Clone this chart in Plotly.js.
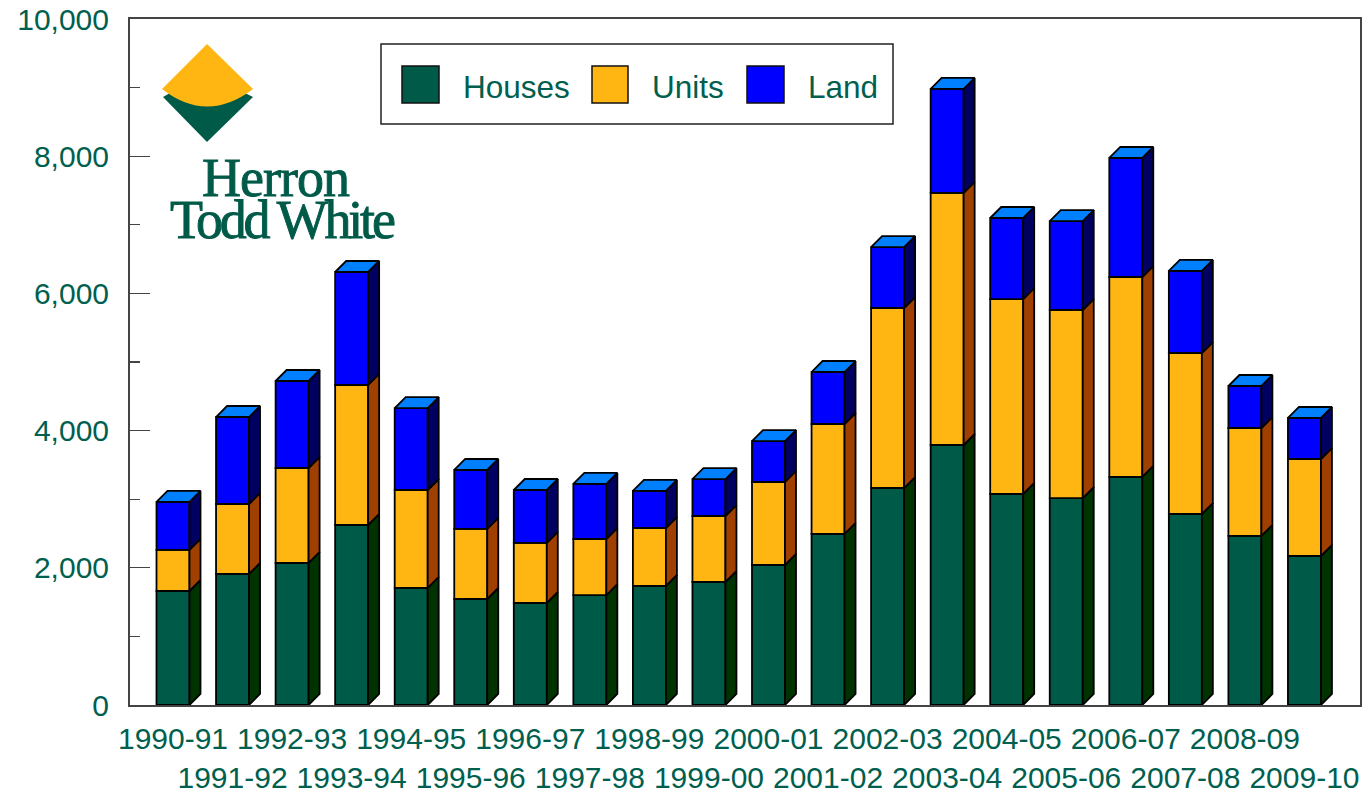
<!DOCTYPE html>
<html>
<head>
<meta charset="utf-8">
<script src="https://cdn.plot.ly/plotly-3.0.1.min.js"></script>
<style>html,body{margin:0;padding:0;background:#fff;overflow:hidden}#chart{width:1372px;height:793px}</style>
</head>
<body>
<div id="chart"></div>
<script>
const categories = ["1990-91","1991-92","1992-93","1993-94","1994-95","1995-96","1996-97","1997-98","1998-99","1999-00","2000-01","2001-02","2002-03","2003-04","2004-05","2005-06","2006-07","2007-08","2008-09","2009-10"];
const houses = [1662,1910,2070,2624,1706,1545,1487,1603,1735,1793,2041,2493,3163,3790,3076,3017,3324,2784,2464,2172];
const units  = [ 598,1020,1385,2041,1428,1021, 875, 817, 845, 962,1210,1603,2624,3674,2842,2741,2915,2347,1574,1414];
const land   = [ 700,1268,1268,1647,1195, 860, 772, 802, 540, 539, 597, 758, 889,1516,1181,1297,1735,1196, 612, 598];
const yTicks = [0,2000,4000,6000,8000,10000];

const GREEN="#005A48", YELLOW="#FFB612", BLUE="#0000FF";
const TEXT="#005F4E", AXIS="#444444";
const L=130,R=1360,T=19,B=705;
const STEP=59.55, X0=173, DEPTH=11, EDGE=1.8;
const xLo=(L-X0)/STEP, xHi=(R-X0)/STEP;
const BARW=33/STEP, DX=DEPTH/STEP, DY=DEPTH/((B-T)/10000);
const idx=categories.map((_,i)=>i);
const px=x=>(x-L)/(R-L), py=y=>1-(y-T)/(B-T);
const P=(x,y)=>px(x).toFixed(5)+","+py(y).toFixed(5);

const base2=houses.map((v,i)=>v+units[i]);
const tops=base2.map((v,i)=>v+land[i]);

function barTrace(name,vals,base,color){
  return {type:"bar",name,x:idx,y:vals,base,width:BARW,showlegend:false,hoverinfo:"name+y",
    marker:{color,line:{color:"#000",width:EDGE}}};
}
function sideTrace(lo,hi,color){
  const xs=[],ys=[];
  idx.forEach(i=>{
    const xr=i+BARW/2;
    xs.push(xr,xr+DX,xr+DX,xr,xr,null);
    ys.push(lo[i],lo[i]+DY,hi[i]+DY,hi[i],lo[i],null);
  });
  return {type:"scatter",mode:"lines",x:xs,y:ys,fill:"toself",fillcolor:color,showlegend:false,hoverinfo:"skip",
    line:{color:"#000",width:EDGE}};
}
function topTrace(color){
  const xs=[],ys=[];
  idx.forEach(i=>{
    const a=i-BARW/2,b=i+BARW/2;
    xs.push(a,a+DX,b+DX,b,a,null);
    ys.push(tops[i],tops[i]+DY,tops[i]+DY,tops[i],tops[i],null);
  });
  return {type:"scatter",mode:"lines",x:xs,y:ys,fill:"toself",fillcolor:color,showlegend:false,hoverinfo:"skip",
    line:{color:"#000",width:EDGE}};
}
const zeros=houses.map(()=>0);
const data=[
  barTrace("Houses",houses,zeros,GREEN),
  barTrace("Units",units,houses,YELLOW),
  barTrace("Land",land,base2,BLUE),
  sideTrace(zeros,houses,"#003300"),
  sideTrace(houses,base2,"#A04000"),
  sideTrace(base2,tops,"#000060"),
  topTrace("#0080FF")
];

function rect(x0,y0,x1,y1,fill,lw,lc){
  return {type:"rect",xref:"paper",yref:"paper",x0:px(x0),x1:px(x1),y0:py(y0),y1:py(y1),
    fillcolor:fill,line:{color:lc||"#000",width:lw},layer:"above"};
}
function path(d,fill){
  return {type:"path",xref:"paper",yref:"paper",path:d,fillcolor:fill,line:{width:0},layer:"above"};
}
const shapes=[
  rect(381,44,893,124,"#fff",1.5,"#222"),
  rect(402,66,439,103,GREEN,1.5,"#111"),
  rect(592,66,628,103,YELLOW,1.5,"#111"),
  rect(747,66,784,103,BLUE,1.5,"#111"),
  path("M"+P(163,97)+" L"+P(170,93)+" L"+P(245,93)+" L"+P(253,97)+" L"+P(207,142)+" Z",GREEN),
  path("M"+P(207,44)+" L"+P(253,89)+" Q"+P(207,124)+" "+P(162,89)+" Z",YELLOW)
];
function label(text,x,y,size,anchor,family){
  return {xref:"paper",yref:"paper",x:px(x),y:py(y),text,showarrow:false,xanchor:anchor||"left",yanchor:"middle",
    borderpad:0,font:{family:family||"Liberation Sans, Arial, sans-serif",size,color:family?GREEN:TEXT}};
}
const annotations=[
  label("Houses",462,87,31.5),
  label("Units",651,87,31.5),
  label("Land",807,87,31.5),
  label('<span style="letter-spacing:-1px;stroke:#005A48;stroke-width:0.9px">Herron</span>',275.5,178,54,"center","Liberation Serif, serif"),
  label('<span style="letter-spacing:-3.2px;stroke:#005A48;stroke-width:0.9px">Todd White</span>',282,220,54,"center","Liberation Serif, serif")
];

const layout={
  width:1372,height:793,
  margin:{l:L,r:1372-R,t:T,b:793-B,pad:0},
  paper_bgcolor:"#fff",plot_bgcolor:"#fff",
  barmode:"overlay",showlegend:false,
  font:{family:"Liberation Sans, Arial, sans-serif",size:30,color:TEXT},
  xaxis:{type:"linear",range:[xLo,xHi],tickmode:"array",tickvals:idx,tickangle:0,
    ticktext:categories.map((c,i)=>i%2?"<br>"+c:c),ticklabelstandoff:6,
    ticks:"",showgrid:false,zeroline:false,showline:true,mirror:true,linecolor:AXIS,linewidth:2,
    tickfont:{size:30,color:TEXT},ticklabeloverflow:"allow"},
  yaxis:{range:[0,10000],tickmode:"array",tickvals:yTicks,ticktext:yTicks.map(v=>v.toLocaleString("en-US")),
    ticks:"inside",ticklen:20,tickwidth:1.2,tickcolor:AXIS,showgrid:false,zeroline:false,
    showline:true,mirror:true,linecolor:AXIS,linewidth:2,ticklabelstandoff:13,
    tickfont:{size:30,color:TEXT},
    minor:{dtick:1000,ticks:"inside",ticklen:10,tickwidth:1.2,tickcolor:AXIS,showgrid:false}},
  shapes,annotations
};
Plotly.newPlot("chart",data,layout,{displayModeBar:false,staticPlot:true});
</script>
</body>
</html>
